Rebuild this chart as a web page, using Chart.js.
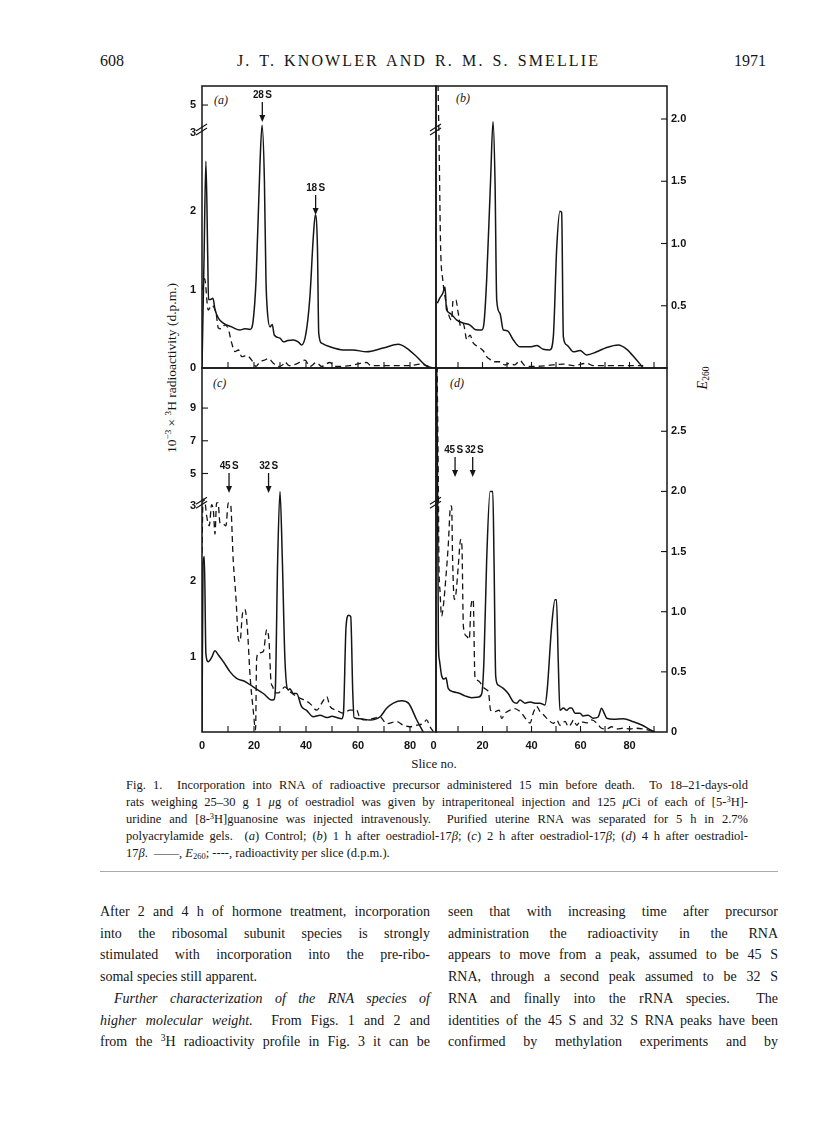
<!DOCTYPE html>
<html><head><meta charset="utf-8">
<script src="https://cdn.jsdelivr.net/npm/chart.js@4/dist/chart.umd.min.js"></script>
<style>
html,body{margin:0;padding:0;background:#fff;}
body{width:816px;height:1136px;position:relative;overflow:hidden;font-family:"Liberation Serif","DejaVu Serif",serif;color:#151515;}
canvas{position:absolute;left:0;top:0;}
.t{position:absolute;white-space:nowrap;}
.blk{position:absolute;}
.ln{white-space:nowrap;text-align:justify;text-align-last:justify;overflow:visible;}
.ln.last{text-align-last:left;}
sup,sub{font-size:0.68em;line-height:0;}
sup{vertical-align:0.5em;} sub{vertical-align:-0.25em;}
.rot{position:absolute;transform:translate(-50%,-50%) rotate(-90deg);white-space:nowrap;}
</style></head><body>

<div class="t" style="left:100px;top:52px;font-size:16px;">608</div>
<div class="t" style="left:237px;top:52px;font-size:16px;letter-spacing:2.1px;word-spacing:2px;">J. T. KNOWLER AND R. M. S. SMELLIE</div>
<div class="t" style="left:600px;width:166px;top:52px;font-size:16px;text-align:right;">1971</div>

<div class="rot" style="left:172px;top:368px;font-size:13.5px;">10<sup>−3</sup> × <sup>3</sup>H radioactivity (d.p.m.)</div>
<div class="rot" style="left:703px;top:378px;font-size:14px;"><i>E</i><sub>260</sub></div>
<div class="t" style="left:434px;top:764px;font-size:13px;transform:translate(-50%,-50%);">Slice no.</div>

<div class="t" style="left:214px;top:93px;font-size:12px;font-style:italic;">(a)</div>
<div class="t" style="left:456px;top:91px;font-size:12px;font-style:italic;">(b)</div>
<div class="t" style="left:213px;top:376px;font-size:12px;font-style:italic;">(c)</div>
<div class="t" style="left:450px;top:376px;font-size:12px;font-style:italic;">(d)</div>

<div class="blk" style="left:126px;top:777px;width:622px;font-size:12.5px;line-height:17px;">
<div class="ln">Fig. 1.&nbsp; Incorporation into RNA of radioactive precursor administered 15 min before death.&nbsp; To 18–21-days-old</div>
<div class="ln">rats weighing 25–30 g 1 <i>μ</i>g of oestradiol was given by intraperitoneal injection and 125 <i>μ</i>Ci of each of [5-<sup>3</sup>H]-</div>
<div class="ln">uridine and [8-<sup>3</sup>H]guanosine was injected intravenously.&nbsp; Purified uterine RNA was separated for 5 h in 2.7%</div>
<div class="ln">polyacrylamide gels.&nbsp; (<i>a</i>) Control; (<i>b</i>) 1 h after oestradiol-17<i>β</i>; (<i>c</i>) 2 h after oestradiol-17<i>β</i>; (<i>d</i>) 4 h after oestradiol-</div>
<div class="ln last">17<i>β</i>.&nbsp; ——, <i>E</i><sub>260</sub>; ----, radioactivity per slice (d.p.m.).</div>
</div>

<div style="position:absolute;left:100px;top:871px;width:678px;height:1px;background:#aaa;"></div>

<div class="blk" style="left:100px;top:901px;width:330px;font-size:14px;line-height:21.7px;">
<div class="ln">After 2 and 4 h of hormone treatment, incorporation</div>
<div class="ln">into the ribosomal subunit species is strongly</div>
<div class="ln">stimulated with incorporation into the pre-ribo-</div>
<div class="ln last">somal species still apparent.</div>
<div class="ln" style="padding-left:14px;"><i>Further characterization of the RNA species of</i></div>
<div class="ln"><i>higher molecular weight.</i>&nbsp; From Figs. 1 and 2 and</div>
<div class="ln">from the <sup>3</sup>H radioactivity profile in Fig. 3 it can be</div>
</div>
<div class="blk" style="left:448px;top:901px;width:330px;font-size:14px;line-height:21.7px;">
<div class="ln">seen that with increasing time after precursor</div>
<div class="ln">administration the radioactivity in the RNA</div>
<div class="ln">appears to move from a peak, assumed to be 45 S</div>
<div class="ln">RNA, through a second peak assumed to be 32 S</div>
<div class="ln">RNA and finally into the rRNA species.&nbsp; The</div>
<div class="ln">identities of the 45 S and 32 S RNA peaks have been</div>
<div class="ln">confirmed by methylation experiments and by</div>
</div>

<script>
// ---------------- DATA ----------------
const xTickLabels = [0, 20, 40, 60, 80];
const xMinorTicks = [10, 20, 30, 40, 50, 60, 70, 80, 90];
const leftTicksTop = [0, 1, 2, 3, 5];
const leftTicksBottom = [1, 2, 3, 5, 7, 9];
const rightTicksTop = [0.5, 1.0, 1.5, 2.0];
const rightTicksBottom = [0, 0.5, 1.0, 1.5, 2.0, 2.5];

// [slice no., E260]  panel (a) control
const e260A = [[0,0],[0.8,0.9],[1.5,1.66],[2.2,0.9],[2.5,0.55],[3.3,0.55],[4.2,0.56],[5,0.47],[6.3,0.40],[8.2,0.36],[11.4,0.33],[14.6,0.305],[16.5,0.315],[18.5,0.31],[19.7,0.385],[20.8,0.71],[22.3,1.64],[23.1,1.95],[24.0,1.51],[24.6,0.71],[25.1,0.47],[26.2,0.33],[27.0,0.35],[27.8,0.265],[30,0.24],[31.3,0.21],[33,0.22],[35.1,0.225],[37,0.21],[38.3,0.185],[40,0.28],[41.5,0.57],[42.8,1.05],[43.6,1.23],[44.4,0.97],[44.9,0.28],[46,0.2],[49.2,0.17],[54.3,0.145],[58,0.145],[63.3,0.13],[69.7,0.16],[75.5,0.19],[78.7,0.16],[82.6,0.09],[86.4,0.015],[89,0]];
// [slice no., 10^-3 x d.p.m.]  panel (a)
const radA = [[0.2,1.0],[1.0,1.14],[2.4,0.74],[3.7,0.8],[5.4,0.7],[6.3,0.51],[7.5,0.5],[8.8,0.55],[10.1,0.5],[11.4,0.32],[12.7,0.21],[14,0.23],[15.3,0.145],[17.2,0.16],[19.1,0.1],[20.8,0.02],[22.3,0.08],[24,0.1],[25.5,0.12],[27.8,0.05],[29.6,0.02],[31,0.04],[31.8,0.08],[33.5,0.03],[36.2,0.05],[39.6,0.1],[41.5,0.02],[44,0.07],[46,0.02],[49.2,0.07],[51,0.02],[56.9,0.03],[63.3,0.07],[65,0.03],[70,0.03],[80,0.03],[84,0.05],[88,0.01]];

// panel (b) 1 h
const e260B = [[1.6,0.52],[2.5,0.56],[3.8,0.6],[4.7,0.65],[5.3,0.47],[6.7,0.44],[9.5,0.385],[12.2,0.36],[14.9,0.345],[16.9,0.31],[19.7,0.305],[20.6,0.36],[21.7,0.71],[23.3,1.51],[24.3,1.98],[25.1,1.51],[25.8,0.546],[27.1,0.44],[28.5,0.305],[30.1,0.3],[32.6,0.225],[35.3,0.17],[39.4,0.17],[42.2,0.18],[44.8,0.15],[47.5,0.145],[48.9,0.25],[50.3,0.97],[51.6,1.26],[52.3,1.25],[53,0.25],[54.4,0.185],[57.1,0.13],[59.8,0.14],[62.5,0.105],[66.6,0.13],[70.7,0.165],[75.4,0.185],[78.9,0.15],[82.2,0.08],[85.6,0]];
const radB = [[1.5,10],[2.3,2.8],[2.9,1.55],[3.8,1.12],[4.7,0.91],[6.0,0.70],[7.4,0.61],[8.0,0.87],[9.1,0.87],[10.1,0.70],[11.1,0.53],[12.2,0.56],[13.6,0.36],[14.9,0.42],[16.2,0.32],[18.3,0.27],[20.3,0.22],[21.7,0.145],[23.0,0.11],[24.4,0.08],[27.1,0.08],[29.1,0.04],[31.1,0.06],[33.1,0.04],[35.3,0.095],[37.3,0.03],[40.7,0.02],[46.2,0.03],[53,0.05],[57.1,0.03],[62.5,0.06],[65.2,0.03],[70,0.03],[85.6,0.03]];

// panel (c) 2 h
const e260C = [[0,0],[0.4,1.4],[0.9,1.46],[1.5,0.65],[2.4,0.585],[3.7,0.62],[5.0,0.675],[6.3,0.64],[8.2,0.585],[10.8,0.50],[13.3,0.445],[16.5,0.42],[19.7,0.375],[23.6,0.32],[26.8,0.265],[27.7,0.27],[28.2,0.35],[29.1,1.43],[30.0,2.0],[30.9,1.43],[31.9,0.6],[33.2,0.35],[33.8,0.36],[35.1,0.32],[36.4,0.32],[38.3,0.21],[40.2,0.18],[42.8,0.127],[45.4,0.14],[48,0.12],[50,0.13],[51.8,0.12],[53.7,0.11],[54.4,0.155],[55.4,0.875],[56.4,0.97],[57.2,0.96],[58.0,0.32],[58.5,0.12],[60.8,0.11],[64.6,0.1],[68.5,0.127],[71,0.197],[73.6,0.24],[76.8,0.26],[79.4,0.24],[82.6,0.1],[85.1,0]];
const radC = [[0,2.38],[0.4,3.43],[1.2,3.2],[1.8,2.87],[2.8,2.74],[3.7,3.1],[4.4,2.93],[5.0,2.63],[5.6,3.2],[6.2,3.2],[6.9,2.78],[8.2,2.76],[9.2,2.74],[10.1,3.2],[11.0,3.1],[12.0,2.29],[13.1,1.76],[14.0,1.23],[14.6,1.2],[15.6,1.58],[16.5,1.63],[17.4,1.40],[18.5,0.74],[19.7,0.29],[20.6,0.03],[21.0,0.96],[21.7,1.05],[23.6,1.07],[24.9,1.36],[25.8,1.2],[26.5,0.69],[27.2,0.60],[28.1,0.52],[29.4,0.52],[30.6,0.56],[31.9,0.6],[33.2,0.56],[34.4,0.52],[36.4,0.47],[39.0,0.43],[41.5,0.38],[44.1,0.29],[46.0,0.38],[48.0,0.47],[49.2,0.34],[51.8,0.29],[54.3,0.25],[56.9,0.29],[59.5,0.29],[60.8,0.18],[63.3,0.16],[65.9,0.18],[68.5,0.2],[71.0,0.11],[74.9,0.14],[77.4,0.09],[80.0,0.07],[82.6,0.09],[85.1,0.115],[86.4,0.16],[87.7,0.07],[89.1,0]];

// panel (d) 4 h
const e260D = [[1.1,3.5],[1.6,2.26],[2.0,0.74],[2.4,0.6],[3.3,0.47],[4.3,0.44],[5.1,0.45],[6.0,0.363],[8.1,0.335],[10.8,0.32],[12.9,0.30],[15.6,0.285],[18.4,0.29],[19.7,0.32],[20.6,0.6],[21.7,1.43],[23.1,2.0],[24.2,2.0],[24.7,1.43],[25.4,0.46],[26.4,0.39],[28.5,0.363],[30.5,0.32],[32.6,0.25],[34.0,0.24],[35.3,0.266],[37.3,0.24],[39.4,0.25],[41.4,0.24],[43.5,0.24],[45.5,0.225],[46.4,0.35],[48.2,0.875],[49.6,1.1],[50.2,1.1],[50.9,0.6],[51.6,0.18],[53.0,0.2],[54.4,0.18],[55.5,0.2],[56.4,0.2],[57.8,0.155],[59.8,0.155],[61.1,0.133],[63.1,0.14],[65.2,0.114],[67.2,0.125],[68.6,0.197],[69.7,0.155],[70.7,0.114],[73.5,0.105],[77.5,0.11],[81.6,0.085],[85.0,0.058],[88.4,0.02],[90.4,0]];
const radD = [[1.3,14],[2.0,3.84],[2.2,2.29],[2.7,1.85],[3.3,1.54],[4.0,1.67],[5.1,2.07],[6.0,2.47],[7.0,3.0],[7.4,3.0],[7.8,2.29],[8.5,1.76],[9.2,1.85],[10.1,2.2],[11.1,2.56],[11.6,2.47],[12.2,1.4],[13.6,1.27],[14.6,1.23],[15.3,1.67],[16.2,1.76],[16.9,0.74],[17.6,0.69],[19.0,0.66],[20.1,0.6],[21.7,0.56],[22.5,0.52],[23.3,0.29],[25.1,0.27],[26.8,0.29],[27.8,0.18],[29.2,0.25],[31.2,0.29],[33.2,0.31],[34.6,0.29],[36.0,0.25],[38.0,0.16],[39.4,0.12],[40.7,0.25],[42.1,0.34],[43.5,0.27],[44.9,0.23],[46.9,0.16],[48.9,0.115],[50.3,0.16],[51.6,0.09],[53.7,0.14],[55.0,0.07],[56.4,0.12],[57.1,0.16],[58.5,0.09],[59.8,0.14],[62.5,0.12],[64.6,0.16],[66.6,0.12],[68.6,0.05],[70.7,0.04],[72.7,0.07],[74.8,0.04],[77.5,0.05],[80.2,0.04],[82.9,0.05],[85.6,0.04],[88.4,0.02],[89.7,0]];

// sedimentation-marker arrows: label, slice no., E260 level of the arrow tip
const markerLabelsA = ['28 S', '18 S'];  const markerSlicesA = [23.2, 43.7]; const markerTipsA = [1.976, 1.229];
const markerLabelsC = ['45 S', '32 S'];  const markerSlicesC = [10.4, 25.6]; const markerTipsC = [1.987, 1.987];
const markerLabelsD = ['45 S', '32 S'];  const markerSlicesD = [8.8, 16.0];  const markerTipsD = [2.12, 2.12];

// ---------------- broken (interrupted) linear scale ----------------
class BrokenLinear extends Chart.LinearScale {
  fwd(v){ const b=this.options.brk, k=this.options.ratio; return (b==null || v<=b) ? v : b+(v-b)*k; }
  inv(u){ const b=this.options.brk, k=this.options.ratio; return (b==null || u<=b) ? u : b+(u-b)/k; }
  getPixelForValue(value){
    if (value===null || value===undefined || isNaN(value)) return NaN;
    const a=this.fwd(this.min), z=this.fwd(this.max);
    return this.getPixelForDecimal((this.fwd(value)-a)/(z-a));
  }
  getValueForPixel(pixel){
    const a=this.fwd(this.min), z=this.fwd(this.max);
    return this.inv(a + this.getDecimalForPixel(pixel)*(z-a));
  }
}
BrokenLinear.id = 'brokenLinear';
BrokenLinear.defaults = Chart.LinearScale.defaults;
Chart.register(BrokenLinear);

const W = 816, H = 800;
const LW = 40, RW = 40, XH = 30;
const INK = '#151515';
const tickFont = {family:'"Liberation Sans","DejaVu Sans",sans-serif', size:11, weight:'bold'};

function deco(cfg){
  return {
    id:'deco',
    afterDatasetsDraw(chart){
      const ctx=chart.ctx, a=chart.chartArea, sx=chart.scales.x, sR=chart.scales.yR, sE=chart.scales.yE;
      const seg=(x1,y1,x2,y2)=>{ctx.beginPath();ctx.moveTo(x1,y1);ctx.lineTo(x2,y2);ctx.stroke();};
      ctx.save();
      ctx.strokeStyle=INK; ctx.fillStyle=INK;
      ctx.lineWidth=1.5;
      ctx.strokeRect(a.left, a.top, a.right-a.left, a.bottom-a.top);
      ctx.lineWidth=1.1;
      xMinorTicks.forEach(v=>{ const px=sx.getPixelForValue(v); if(px>a.left+3 && px<a.right-3) seg(px,a.bottom,px,a.bottom-6); });
      if (cfg.showLeft) cfg.leftTicks.forEach(v=>{ if (v<=3) return; const py=sR.getPixelForValue(v); seg(a.left,py,a.left+6,py); });
      if (cfg.showRight) cfg.rightTicks.forEach(v=>{ if (v===0) return; const py=sE.getPixelForValue(v); seg(a.right-6,py,a.right,py); });
      // axis-break marks
      const by = sR.getPixelForValue(3) - 3;
      ctx.lineWidth=1.2;
      seg(a.left-6, by+1, a.left+5, by-6);
      seg(a.left-6, by+5, a.left+5, by-2);
      // arrows with labels; labels nudged apart if they would collide
      ctx.font='bold 10px "Liberation Sans","DejaVu Sans",sans-serif';
      if ('letterSpacing' in ctx) ctx.letterSpacing='-0.3px';
      ctx.textAlign='center'; ctx.textBaseline='middle';
      const items = cfg.mLabels.map((lab,i)=>{
        const txt = lab.replace(' ', '\u2009');
        const px = sx.getPixelForValue(cfg.mSlices[i]);
        return {txt, px, tx:px, w:ctx.measureText(txt).width, tip:sE.getPixelForValue(cfg.mTips[i])};
      });
      for (let i=1;i<items.length;i++){
        const p=items[i-1], q=items[i];
        const gap = (q.tx - q.w/2) - (p.tx + p.w/2) - 2;
        if (gap < 0 && Math.abs(p.tip-q.tip) < 12){ p.tx += gap/2; q.tx -= gap/2; }
      }
      items.forEach(it=>{
        ctx.lineWidth=1.3; seg(it.px, it.tip-20, it.px, it.tip-5);
        ctx.beginPath(); ctx.moveTo(it.px-3,it.tip-7); ctx.lineTo(it.px+3,it.tip-7); ctx.lineTo(it.px,it.tip); ctx.closePath(); ctx.fill();
        ctx.fillText(it.txt, it.tx, it.tip-27);
      });
      ctx.restore();
    }
  };
}

function panel(cfg){
  const cv=document.createElement('canvas'); cv.width=W; cv.height=H;
  document.body.appendChild(cv);
  const pts = arr => arr.map(p=>({x:p[0], y:p[1]}));
  new Chart(cv, {
    type:'line',
    data:{datasets:[
      {data:pts(cfg.e260), yAxisID:'yE', borderColor:INK, borderWidth:1.5, pointRadius:0, fill:false, cubicInterpolationMode:'monotone'},
      {data:pts(cfg.rad), yAxisID:'yR', borderColor:INK, borderWidth:1.3, borderDash:[6,4], pointRadius:0, fill:false, cubicInterpolationMode:'monotone'}
    ]},
    options:{
      responsive:false, animation:false, events:[],
      layout:{padding:{
        left:cfg.box[0]-(cfg.showLeft?LW:0), top:cfg.box[1],
        right:W-cfg.box[2]-(cfg.showRight?RW:0), bottom:H-cfg.box[3]-(cfg.showX?XH:0)}},
      plugins:{legend:{display:false}, tooltip:{enabled:false}},
      scales:{
        x:{type:'linear', min:cfg.xmin, max:cfg.xmax, display:cfg.showX,
           afterFit:s=>{s.height=cfg.showX?XH:0;}, afterBuildTicks:s=>{s.ticks=xTickLabels.map(v=>({value:v}));},
           grid:{display:false, drawTicks:false}, border:{display:false},
           ticks:{font:tickFont, color:INK, padding:7, autoSkip:false, maxRotation:0}},
        yR:{type:'brokenLinear', position:'left', min:0, max:cfg.rmax, brk:3, ratio:cfg.ratio, display:cfg.showLeft,
           afterFit:s=>{s.width=cfg.showLeft?LW:0;}, afterBuildTicks:s=>{s.ticks=cfg.leftTicks.map(v=>({value:v}));},
           grid:{display:false, drawTicks:false}, border:{display:false},
           ticks:{font:tickFont, color:INK, padding:6, autoSkip:false, callback:v=>String(v)}},
        yE:{type:'linear', position:'right', min:0, max:cfg.emax, display:cfg.showRight,
           afterFit:s=>{s.width=cfg.showRight?RW:0;}, afterBuildTicks:s=>{s.ticks=cfg.rightTicks.map(v=>({value:v}));},
           grid:{display:false, drawTicks:false}, border:{display:false},
           ticks:{font:tickFont, color:INK, padding:4, autoSkip:false, callback:v=>v===0?'0':v.toFixed(1)}}
      }
    },
    plugins:[deco(cfg)]
  });
}

panel({box:[202,86,436,368], xmin:0, xmax:90, rmax:6.36, ratio:0.1788, emax:2.265,
  e260:e260A, rad:radA, showX:false, showLeft:true, showRight:false,
  leftTicks:leftTicksTop, rightTicks:rightTicksTop, mLabels:markerLabelsA, mSlices:markerSlicesA, mTips:markerTipsA});
panel({box:[436,86,667,368], xmin:1.02, xmax:95.3, rmax:6.36, ratio:0.1788, emax:2.265,
  e260:e260B, rad:radB, showX:false, showLeft:false, showRight:true,
  leftTicks:leftTicksTop, rightTicks:rightTicksTop, mLabels:[], mSlices:[], mTips:[]});
panel({box:[202,368,436,732], xmin:0, xmax:90, rmax:11.45, ratio:0.2173, emax:3.026,
  e260:e260C, rad:radC, showX:true, showLeft:true, showRight:false,
  leftTicks:leftTicksBottom, rightTicks:rightTicksBottom, mLabels:markerLabelsC, mSlices:markerSlicesC, mTips:markerTipsC});
panel({box:[436,368,667,732], xmin:1.02, xmax:95.3, rmax:11.45, ratio:0.2173, emax:3.026,
  e260:e260D, rad:radD, showX:true, showLeft:false, showRight:true,
  leftTicks:leftTicksBottom, rightTicks:rightTicksBottom, mLabels:markerLabelsD, mSlices:markerSlicesD, mTips:markerTipsD});
</script>
</body></html>
